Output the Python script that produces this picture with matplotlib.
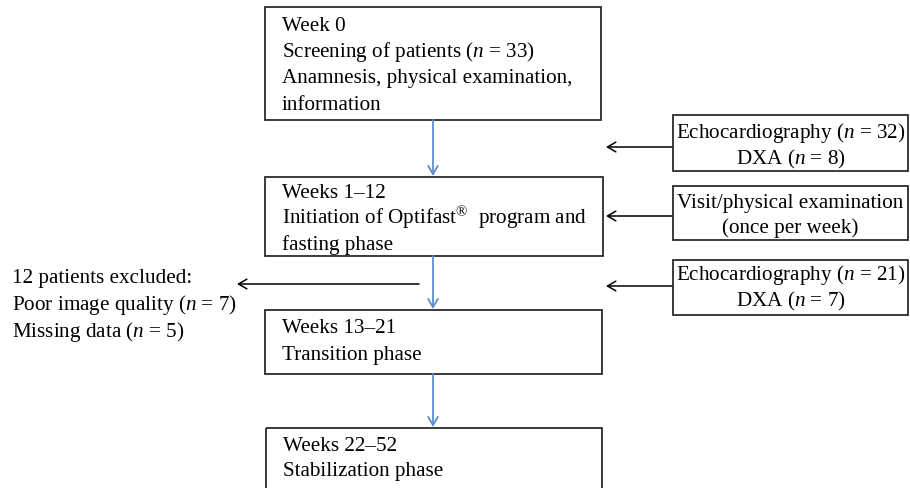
import matplotlib
matplotlib.use('Agg')
import matplotlib.pyplot as plt
from matplotlib.patches import Rectangle

plt.rcParams['font.family'] = 'Liberation Serif'
plt.rcParams['mathtext.fontset'] = 'custom'
plt.rcParams['mathtext.rm'] = 'Liberation Serif'
plt.rcParams['mathtext.it'] = 'Liberation Serif:italic'

# texts of the flowchart
main_steps = [
    ["Week 0", "Screening of patients ($n$ = 33)",
     "Anamnesis, physical examination,", "information"],
    ["Weeks 1\u201312", "Initiation of Optifast$^{\u00ae}$  program and",
     "fasting phase"],
    ["Weeks 13\u201321", "Transition phase"],
    ["Weeks 22\u201352", "Stabilization phase"],
]
side_boxes = [
    ["Echocardiography ($n$ = 32)", "DXA ($n$ = 8)"],
    ["Visit/physical examination", "(once per week)"],
    ["Echocardiography ($n$ = 21)", "DXA ($n$ = 7)"],
]
excluded = ["12 patients excluded:", "Poor image quality ($n$ = 7)",
            "Missing data ($n$ = 5)"]

# layout in pixels (x0, y0, x1, y1), y down
main_xy = [(265, 8, 601, 121), (265, 178, 603, 257),
           (265, 311, 602, 375), (266, 429, 602, 500)]
main_base = [[31, 57, 83, 110], [198, 224, 250], [333, 360], [451, 476]]
side_xy = [(673, 116, 908, 172), (673, 187, 908, 241), (673, 261, 908, 316)]
side_base = [[138, 164], [208, 233], [280, 306]]
side_arrow_y = [148, 217, 287]
excl_base = [283, 310, 337]

fs = 15.2
box_col = '#2b2b2b'
blue = '#5f8dcc'

fig = plt.figure(figsize=(9.1, 4.89), dpi=100)
ax = fig.add_axes([0, 0, 1, 1])
ax.set_xlim(0, 910)
ax.set_ylim(489, 0)
ax.axis('off')

for lines, (x0, y0, x1, y1), bases in zip(main_steps, main_xy, main_base):
    ax.add_patch(Rectangle((x0, y0), x1 - x0, y1 - y0, fill=False,
                           ec=box_col, lw=1.3, clip_on=False))
    for t, b in zip(lines, bases):
        ax.text(x0 + 17, b, t, fontsize=fs, ha='left', va='baseline')

for lines, (x0, y0, x1, y1), bases in zip(side_boxes, side_xy, side_base):
    ax.add_patch(Rectangle((x0, y0), x1 - x0, y1 - y0, fill=False,
                           ec=box_col, lw=1.3))
    for t, b in zip(lines, bases):
        ax.text((x0 + x1) / 2, b, t, fontsize=fs, ha='center', va='baseline')

for t, b in zip(excluded, excl_base):
    ax.text(12, b, t, fontsize=fs, ha='left', va='baseline')

# blue arrows between main steps
cx = 433
for i in range(len(main_xy) - 1):
    ax.annotate('', xy=(cx, main_xy[i + 1][1] - 1), xytext=(cx, main_xy[i][3]),
                arrowprops=dict(arrowstyle='->,head_length=0.6,head_width=0.35',
                                color=blue, lw=1.3, shrinkA=0, shrinkB=0))

# side arrows
for y in side_arrow_y:
    ax.annotate('', xy=(606, y), xytext=(672, y),
                arrowprops=dict(arrowstyle='->,head_length=0.6,head_width=0.35',
                                color='black', lw=1.1, shrinkA=0, shrinkB=0))

# excluded arrow
ax.annotate('', xy=(237, 285), xytext=(419, 285),
            arrowprops=dict(arrowstyle='->,head_length=0.6,head_width=0.35',
                            color='black', lw=1.1, shrinkA=0, shrinkB=0))

fig.savefig('out.png', dpi=100)
